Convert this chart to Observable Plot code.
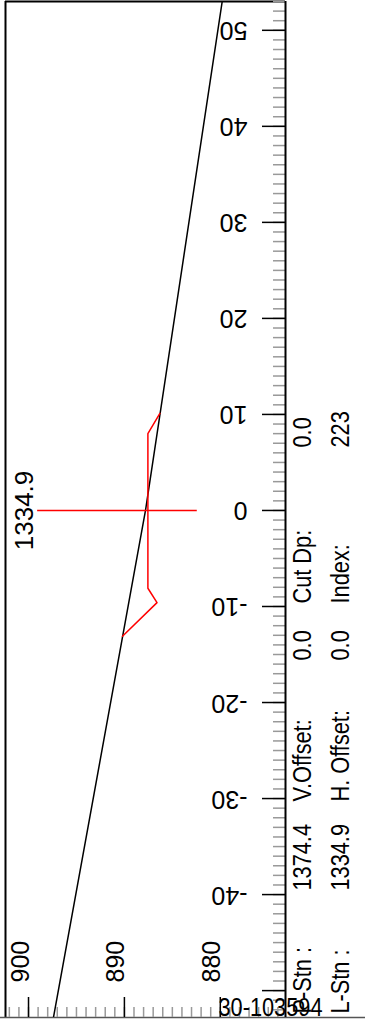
<!DOCTYPE html>
<html><head><meta charset="utf-8">
<script src="https://cdn.jsdelivr.net/npm/d3@7"></script>
<script src="https://cdn.jsdelivr.net/npm/@observablehq/plot@0.6"></script>
<style>html,body{margin:0;padding:0;background:#fff;overflow:hidden}#chart svg{display:block}</style>
</head><body><div id="chart"></div>
<script>
// ---- data ----
const groundOffset = [-55, 0, 55];
const groundElev = [897.8, 887.8, 879.5];
const templateOffset = [10.1, 8.0, -8.1, -9.6, -13.1];
const templateElev = [886.3, 887.55, 887.55, 886.6, 890.2];
const centerlineElev = [899.05, 882.4];
const stationLabel = "1334.9";
const offsetTicks = [-40, -30, -20, -10, 0, 10, 20, 30, 40, 50];
const offsetTickLabels = ["-40", "-30", "-20", "-10", "0", "10", "20", "30", "40", "50"];
const offsetMajor = [-50, -40, -30, -20, -10, 0, 10, 20, 30, 40, 50];
const elevTicks = [900, 890, 880];
const elevTickLabels = ["900", "890", "880"];
const infoRow1 = ["P-Stn :", "1374.4", "V.Offset:", "0.0", "Cut Dp:", "0.0"];
const infoRow2 = ["L-Stn :", "1334.9", "H. Offset:", "0.0", "Index:", "223"];
const footerId = "30-103594";

// ---- layout ----
const W = 365, H = 1020;
const mL = 5, mR = 80, mT = 1, mB = 3;
const innerW = W - mL - mR, innerH = H - mT - mB;
const xDomain = [902.4, 873.2];
const yDomain = [-52.8, 53.0];
const offsetMinor = d3.range(Math.ceil(yDomain[0]), Math.floor(yDomain[1]) + 1);
const elevMinor = d3.range(Math.ceil(xDomain[1]), Math.floor(xDomain[0]) + 1);
const sans = "'Liberation Sans', Arial, sans-serif";
const condensed = "'Liberation Sans', Arial, Helvetica, sans-serif"; // panel font, condensed below
const condense = 0.87;

const ground = groundOffset.map((o, i) => ({o, e: groundElev[i]}));
const template = templateOffset.map((o, i) => ({o, e: templateElev[i]}));
const panelRowDx = [25, 63];
const panelColDy = [-4, -127, -216, -357, -414, -570];

const panelMarks = [infoRow1, infoRow2].flatMap((row, r) => row.map((t, c) =>
  Plot.text([t], {text: d => d, frameAnchor: "bottom-right", dx: panelRowDx[r], dy: panelColDy[c],
    rotate: -90, textAnchor: "start", fontSize: 25, fontFamily: condensed, fill: "#000"})));

const chart = Plot.plot({
  width: W, height: H,
  marginLeft: mL, marginRight: mR, marginTop: mT, marginBottom: mB,
  x: {domain: xDomain, axis: null},
  y: {domain: yDomain, axis: null},
  style: {fontFamily: sans, background: "#fff", color: "#000"},
  marks: [
    // frame
    Plot.ruleY([yDomain[1]], {stroke: "#000", strokeWidth: 2}),
    Plot.ruleX([xDomain[0]], {stroke: "#000", strokeWidth: 2}),
    Plot.ruleY([yDomain[0]], {stroke: "#555", strokeWidth: 1.5, insetLeft: -mL, insetRight: -mR}),
    // offset axis (right)
    Plot.ruleY(offsetMinor, {y: d => d, stroke: "#999", strokeWidth: 1.5, insetLeft: innerW - 12}),
    Plot.ruleY(offsetMajor, {y: d => d, stroke: "#000", strokeWidth: 1.5, insetLeft: innerW - 23}),
    Plot.ruleX([xDomain[1]], {stroke: "#000", strokeWidth: 2}),
    Plot.text(offsetTicks, {y: d => d, text: (d, i) => offsetTickLabels[i], frameAnchor: "right", dx: -38,
      rotate: 180, textAnchor: "start", fontSize: 25, fill: "#000"}),
    // elevation axis (bottom)
    Plot.ruleX(elevMinor, {x: d => d, stroke: "#999", strokeWidth: 1.5, insetTop: innerH - 10}),
    Plot.ruleX(elevTicks, {x: d => d, stroke: "#000", strokeWidth: 1.5, insetTop: innerH - 20}),
    Plot.text(elevTicks, {x: d => d, text: (d, i) => elevTickLabels[i], frameAnchor: "bottom", dy: -35,
      rotate: -90, textAnchor: "start", fontSize: 25, fill: "#000"}),
    // ground line
    Plot.line(ground, {x: "e", y: "o", stroke: "#000", strokeWidth: 1.5, clip: true}),
    // template
    Plot.ruleY([0], {x1: centerlineElev[0], x2: centerlineElev[1], stroke: "red", strokeWidth: 1.5}),
    Plot.line(template, {x: "e", y: "o", stroke: "red", strokeWidth: 1.5}),
    Plot.text([stationLabel], {text: d => d, y: () => 0, frameAnchor: "left", dx: 19,
      rotate: -90, textAnchor: "middle", fontSize: 26, fill: "#000"}),
    // info panel & footer
    ...panelMarks,
    Plot.text([footerId], {text: d => d, frameAnchor: "bottom-right", dx: -67, dy: -2,
      textAnchor: "start", lineAnchor: "bottom", fontSize: 25, fontFamily: condensed, fill: "#000"})
  ]
});
// condense the panel font horizontally (narrow typeface look)
chart.querySelectorAll('g[font-family*="Helvetica"] text').forEach(t => {
  const tr = t.getAttribute("transform") || "";
  t.setAttribute("transform", (tr + ` scale(${condense},1)`).trim());
});
document.getElementById("chart").append(chart);
</script>
</body></html>
